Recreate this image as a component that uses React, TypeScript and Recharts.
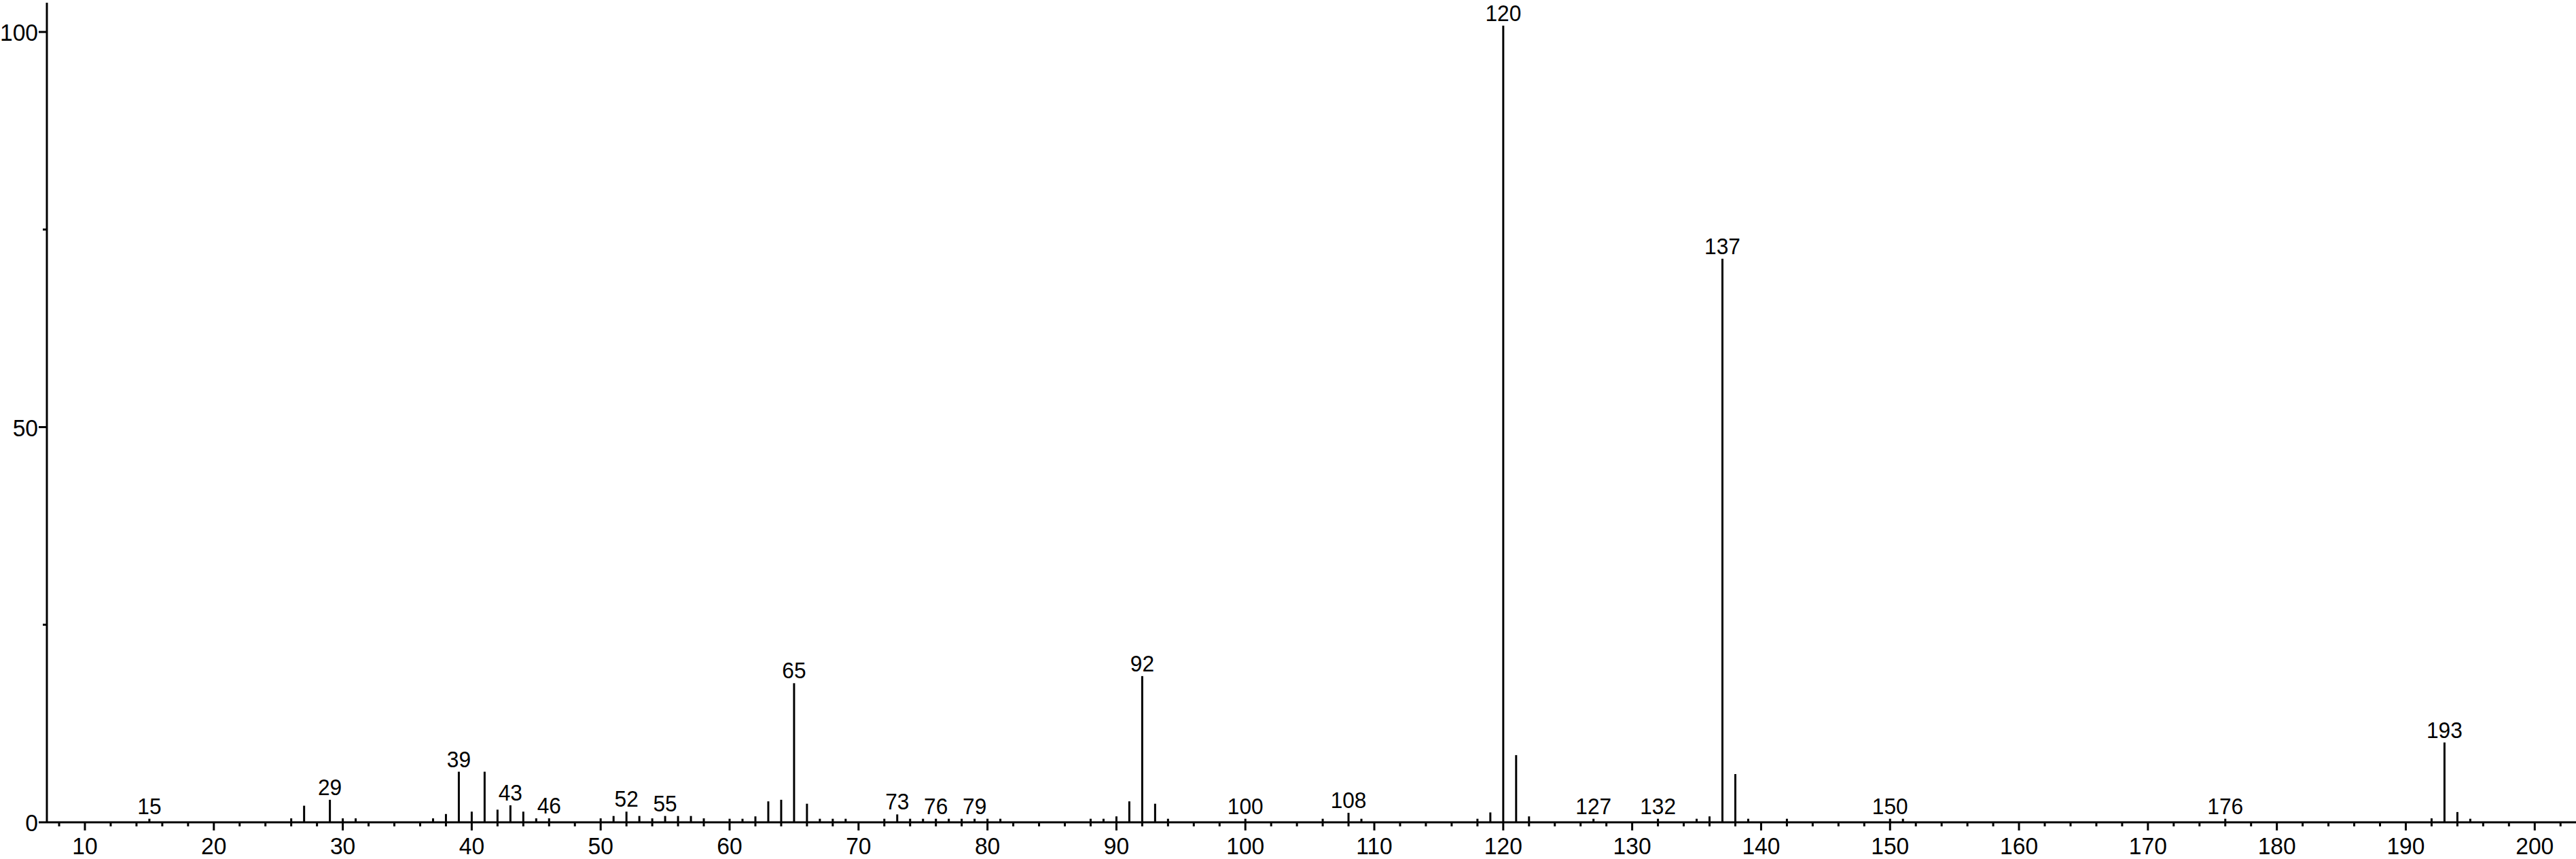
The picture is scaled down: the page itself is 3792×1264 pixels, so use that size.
import React from 'react';
import { ComposedChart, XAxis, YAxis, Scatter, ReferenceLine, ReferenceDot } from 'recharts';

// m/z values of the sticks
const mzValues = [
  15, 26, 27, 29, 30, 31, 37, 38, 39, 40, 41, 42, 43, 44, 45, 46, 50, 51, 52, 53, 54, 55, 56, 57, 58,
  60, 61, 62, 63, 64, 65, 66, 67, 68, 69, 72, 73, 74, 75, 76, 77, 78, 79, 80, 81, 88, 89, 90, 91, 92,
  93, 94, 100, 106, 108, 109, 118, 119, 120, 121, 122, 127, 132, 135, 136, 137, 138, 139, 142, 150,
  151, 176, 192, 193, 194, 195,
];
// relative intensities (%)
const intensities = [
  0.45, 0.5, 2.1, 2.85, 0.5, 0.5, 0.5, 1.05, 6.4, 1.35, 6.4, 1.6, 2.15, 1.35, 0.5, 0.5, 0.5, 0.8, 1.35, 0.8, 0.5, 0.8, 0.8, 0.8, 0.5,
  0.45, 0.45, 0.75, 2.65, 2.85, 17.6, 2.35, 0.45, 0.45, 0.45, 0.45, 1.0, 0.45, 0.45, 0.45, 0.45, 0.45, 0.45, 0.45, 0.45, 0.45, 0.45, 0.75, 2.65, 18.5,
  2.35, 0.45, 0.45, 0.45, 1.2, 0.45, 0.45, 1.25, 100.8, 8.5, 0.75, 0.45, 0.45, 0.45, 0.75, 71.3, 6.1, 0.45, 0.45, 0.45,
  0.45, 0.45, 0.5, 10.1, 1.3, 0.45,
];
// peaks carrying an m/z label
const labeledMz = [15, 29, 39, 43, 46, 52, 55, 65, 73, 76, 79, 92, 100, 108, 120, 127, 132, 137, 150, 176, 193];

// x-axis ticks (every 2, labelled every 10)
const xTicks = [
  8, 10, 12, 14, 16, 18, 20, 22, 24, 26, 28, 30, 32, 34, 36, 38, 40, 42, 44, 46, 48, 50, 52, 54, 56, 58,
  60, 62, 64, 66, 68, 70, 72, 74, 76, 78, 80, 82, 84, 86, 88, 90, 92, 94, 96, 98, 100, 102, 104, 106, 108,
  110, 112, 114, 116, 118, 120, 122, 124, 126, 128, 130, 132, 134, 136, 138, 140, 142, 144, 146, 148, 150,
  152, 154, 156, 158, 160, 162, 164, 166, 168, 170, 172, 174, 176, 178, 180, 182, 184, 186, 188, 190, 192,
  194, 196, 198, 200, 202,
];
const xLabelled = [10, 20, 30, 40, 50, 60, 70, 80, 90, 100, 110, 120, 130, 140, 150, 160, 170, 180, 190, 200];
const yTicks = [0, 25, 50, 75, 100];
const yLabelled = [0, 50, 100];

const FONT = '"Liberation Sans", Arial, Helvetica, sans-serif';
const SQUEEZE = 0.96;

const peaks = mzValues.map((m, i) => ({ mz: m, intensity: intensities[i] }));

const NarrowText = ({ x, y, anchor, size, children }: any) => (
  <text
    transform={`translate(${x},${y}) scale(${SQUEEZE},1)`}
    x={0}
    y={0}
    textAnchor={anchor}
    fontSize={size}
    fontFamily={FONT}
    fill="#000"
  >
    {children}
  </text>
);

const XTick = (props: any) => {
  const { x, y, payload } = props;
  const major = xLabelled.includes(payload.value);
  return (
    <g>
      <line x1={x} x2={x} y1={y} y2={y + (major ? 12 : 6)} stroke="#000" strokeWidth={3} />
      {major && (
        <NarrowText x={x} y={y + 47} anchor="middle" size={35}>
          {payload.value}
        </NarrowText>
      )}
    </g>
  );
};

const YTick = (props: any) => {
  const { x, y, payload } = props;
  const major = yLabelled.includes(payload.value);
  return (
    <g>
      <line x1={x - (major ? 12 : 6)} x2={x} y1={y} y2={y} stroke="#000" strokeWidth={3} />
      {major && (
        <NarrowText x={x - 13} y={y + 13} anchor="end" size={35}>
          {payload.value}
        </NarrowText>
      )}
    </g>
  );
};

const PeakLabel = (props: any) => {
  const { viewBox, value } = props;
  if (!viewBox) return null;
  const cx = viewBox.x + (viewBox.width || 0) / 2;
  const cy = viewBox.y;
  return (
    <NarrowText x={cx} y={cy - 7} anchor="middle" size={33}>
      {value}
    </NarrowText>
  );
};

const Nothing = () => null;

export default function App() {
  return (
    <div style={{ position: 'absolute', left: 0, top: 0, background: '#fff' }}>
      <ComposedChart width={3792} height={1264} margin={{ top: 4, right: 0, bottom: 0, left: 0 }} data={peaks}>
        <XAxis
          dataKey="mz"
          type="number"
          domain={[7.05, 203.2]}
          allowDataOverflow
          ticks={xTicks}
          interval={0}
          tick={<XTick />}
          tickLine={false}
          tickSize={0}
          tickMargin={0}
          height={54}
          axisLine={{ stroke: '#000', strokeWidth: 3 }}
        />
        <YAxis
          type="number"
          domain={[0, 103.7]}
          allowDataOverflow
          ticks={yTicks}
          interval={0}
          tick={<YTick />}
          tickLine={false}
          tickSize={0}
          tickMargin={0}
          width={69}
          axisLine={{ stroke: '#000', strokeWidth: 3 }}
        />
        <Scatter dataKey="intensity" data={peaks} shape={<Nothing />} isAnimationActive={false} />
        {peaks.map((p) => (
          <ReferenceLine
            key={'l' + p.mz}
            segment={[{ x: p.mz, y: 0 }, { x: p.mz, y: p.intensity }]}
            stroke="#000"
            strokeWidth={3}
            ifOverflow="visible"
          />
        ))}
        {peaks
          .filter((p) => labeledMz.includes(p.mz))
          .map((p) => (
            <ReferenceDot
              key={'d' + p.mz}
              x={p.mz}
              y={p.intensity}
              r={0}
              fill="none"
              stroke="none"
              ifOverflow="visible"
              label={<PeakLabel value={String(p.mz)} />}
            />
          ))}
      </ComposedChart>
    </div>
  );
}
